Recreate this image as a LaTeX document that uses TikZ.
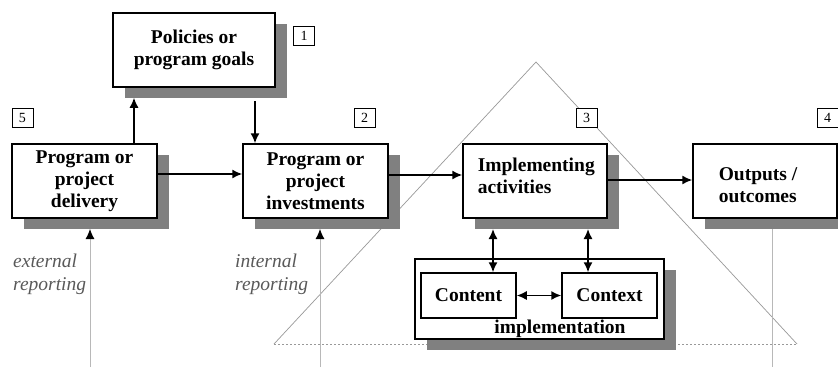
\documentclass[tikz,border=0pt]{standalone}
\usepackage{fontspec}
\setmainfont{Liberation Serif}
\usetikzlibrary{arrows.meta,shadows}
\definecolor{shadowgray}{gray}{0.5}
\definecolor{trigray}{gray}{0.6}
\definecolor{linegray}{gray}{0.72}
\definecolor{txtgray}{gray}{0.35}
\begin{document}
\begin{tikzpicture}[x=1pt,y=-1pt,
  box/.style={draw=black, line width=1.5pt, fill=white, inner sep=0pt,
    font=\bfseries\fontsize{19.5}{22}\selectfont, align=center},
  shad/.style={drop shadow={shadow xshift=12pt, shadow yshift=-11pt, fill=shadowgray, opacity=1}},
  numbox/.style={draw=black, line width=1pt, fill=white, minimum width=21pt,
    minimum height=19pt, inner sep=0pt, font=\fontsize{14}{14}\selectfont},
  arr/.style={line width=1.5pt, -{Latex[length=10pt,width=9pt]}},
  darr/.style={line width=1.5pt, {Latex[length=10pt,width=9pt]}-{Latex[length=10pt,width=9pt]}},
  tri/.style={draw=trigray, line width=0.7pt},
  rep/.style={font=\itshape\fontsize{19.5}{23}\selectfont, text=txtgray, align=left, inner sep=0pt, anchor=north west},
  vline/.style={draw=linegray, line width=0.9pt}
]
\fill[white] (0,0) rectangle (838,367);
\useasboundingbox (0,0) rectangle (838,367);

% triangle
\coordinate (apex) at (536,62);
\coordinate (bl) at (274,344);
\coordinate (br) at (797,344);
\draw[tri] (bl) -- (apex) -- (br);
\draw[tri, dashed, dash pattern=on 2pt off 2pt] (bl) -- (br);

% vertical reporting lines (bottom ends)
\coordinate (extb) at (90,367);
\coordinate (intb) at (320,367);
\coordinate (outb) at (772,367);

% boxes
\node[box, shad, minimum width=162pt, minimum height=74pt] (pol) at (194,50) {Policies or\\program goals};
\node[box, shad, minimum width=145pt, minimum height=74pt] (del) at (84.5,181) {Program or\\project\\delivery};
\node[box, shad, minimum width=145pt, minimum height=74pt] (inv) at (315.5,181) {Program or\\project\\investments};
\node[box, shad, minimum width=144pt, minimum height=74pt] (imp) at (535,181) {};
\node[box, inner sep=0pt, anchor=west, align=left, draw=none, fill=none] (impt) at (477,176) {Implementing\\activities};
\node[box, shad, minimum width=144pt, minimum height=74pt] (out) at (765,181) {};
\node[box, inner sep=0pt, anchor=west, align=left, draw=none, fill=none] (outt) at (718,185) {Outputs /\\outcomes};

% implementation group
\node[box, shad, minimum width=249pt, minimum height=80pt] (grp) at (539.5,299) {};
\node[font=\bfseries\fontsize{19.5}{22}\selectfont, inner sep=0pt] (impl) at (560,329) {implementation};
\node[box, minimum width=95pt, minimum height=45pt] (cont) at (468.5,295.5) {Content};
\node[box, minimum width=95pt, minimum height=45pt] (ctx) at (609.5,295.5) {Context};

% number boxes
\node[numbox] (n1) at (304,36) {1};
\node[numbox] (n5) at (22.5,117.5) {5};
\node[numbox] (n2) at (364.5,117.5) {2};
\node[numbox] (n3) at (586.5,117.5) {3};
\node[numbox] (n4) at (827.5,117.5) {4};

% reporting texts
\node[rep] (ext) at (13,254) {external\\reporting};
\node[rep] (int) at (235,254) {internal\\reporting};

% reporting lines
\draw[vline, -{Latex[length=10pt,width=9pt,black]}] (extb) -- (extb |- 0,229);
\draw[vline, -{Latex[length=10pt,width=9pt,black]}] (intb) -- (intb |- 0,229);
\draw[vline] (outb |- 0,229) -- (outb);

% arrows
\draw[arr] ([xshift=-60pt]pol.south |- 0,144) -- ([xshift=-60pt,yshift=-10pt]pol.south);
\draw[arr] ([xshift=-60.5pt]inv.north |- 0,101) -- ([xshift=-60.5pt]inv.north);
\draw[arr] ([yshift=7pt]del.east) -- ([yshift=7pt]inv.west);
\draw[arr] ([yshift=6pt]inv.east) -- ([yshift=6pt]imp.west);
\draw[arr] ([yshift=1pt]imp.east) -- ([yshift=1pt]out.west);
\draw[darr] ([xshift=24.5pt]cont.north |- 0,229) -- ([xshift=24.5pt]cont.north);
\draw[darr] ([xshift=-21.5pt]ctx.north |- 0,229) -- ([xshift=-21.5pt]ctx.north);
\draw[darr] (cont.east) -- (ctx.west);
\end{tikzpicture}
\end{document}
